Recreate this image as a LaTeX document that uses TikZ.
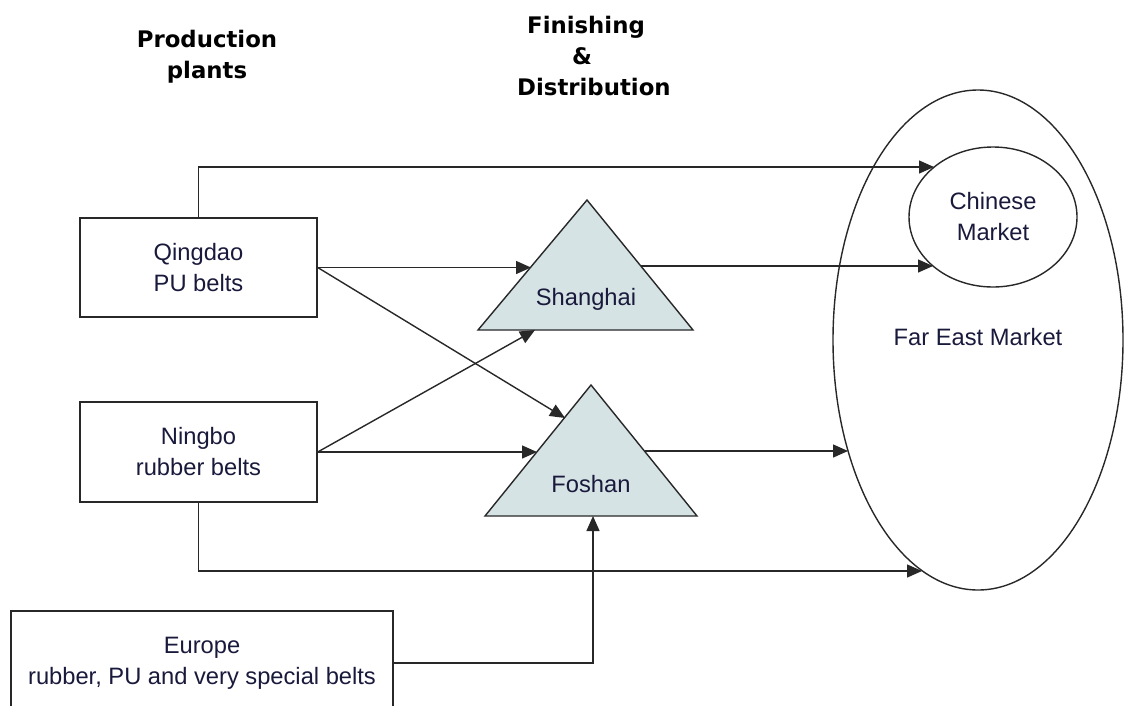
\documentclass[tikz,border=0pt]{standalone}
\usepackage{fontspec}
\setmainfont{Liberation Sans}
\newfontfamily\headfont{DejaVu Sans}
\usetikzlibrary{arrows.meta,shapes.geometric}
\definecolor{txt}{RGB}{25,25,60}
\definecolor{trifill}{RGB}{214,227,228}
\definecolor{edge}{RGB}{40,40,40}
\begin{document}
\begin{tikzpicture}[x=1pt,y=-1pt,
  plant/.style={draw=edge, line width=1.4pt, fill=white, rectangle, inner sep=0pt,
    align=center, text=txt, font=\fontsize{23.7}{31}\selectfont},
  caption/.style={text=txt, align=center, font=\fontsize{23.7}{31}\selectfont, inner sep=0pt},
  heading/.style={align=center, inner sep=0pt, font=\headfont\bfseries\fontsize{22.8}{31}\selectfont},
  tri/.style={draw=edge, line width=1.4pt, fill=trifill, line join=miter},
  market/.style={draw=edge, line width=1.4pt, ellipse, inner sep=0pt, align=center,
    text=txt, font=\fontsize{23.7}{31}\selectfont},
  arr/.style={draw=edge, line width=1.4pt, -{Triangle[length=15pt,width=13pt]}}]
\useasboundingbox (0,0) rectangle (1124,705);
\clip (0,0) rectangle (1124,705);

% column headings
\node[heading] (hprod) at (207,57) {Production\\plants};
\node[heading, align=left, anchor=west] (hfin) at (517,56)
  {\hspace*{10pt}Finishing\\\hspace*{55pt}\&\\Distribution};

% production plants
\node[plant, minimum width=237pt, minimum height=99pt] (qingdao) at (198.5,267.5) {Qingdao\\PU belts};
\node[plant, minimum width=237pt, minimum height=100pt] (ningbo) at (198.5,452) {Ningbo\\rubber belts};
\node[plant, minimum width=382pt, minimum height=104pt] (europe) at (202,663)
  {Europe\\rubber, PU and very special belts};

% markets
\node[market, minimum width=290pt, minimum height=500pt] (fareast) at (978,340) {};
\node[caption] (fareastlbl) at (978,337) {Far East Market};
\node[market, minimum width=168pt, minimum height=140pt] (chinese) at (993,217) {Chinese\\Market};

% finishing and distribution centres
\coordinate (sh-top) at (587,200);
\coordinate (sh-left) at (478,330);
\coordinate (sh-right) at (693,330);
\draw[tri] (sh-top) -- (sh-right) -- (sh-left) -- cycle;
\node[caption] (shanghai) at (586,299) {Shanghai};

\coordinate (fo-top) at (591,385);
\coordinate (fo-left) at (485,516);
\coordinate (fo-right) at (697,516);
\draw[tri] (fo-top) -- (fo-right) -- (fo-left) -- cycle;
\node[caption] (foshan) at (591,484) {Foshan};

% connector end points on the shapes' borders
\coordinate (cm-in1) at (934,167);
\coordinate (cm-in2) at (933,266);
\coordinate (sh-in1) at (531,267.5);
\coordinate (sh-in2) at (535,330);
\coordinate (sh-out) at (641,266);
\coordinate (fo-in1) at (565,418);
\coordinate (fo-in2) at (537,452);
\coordinate (fo-out) at (645,451);
\coordinate (fo-base) at (593,516);
\coordinate (fe-in1) at (848,451);
\coordinate (fe-in2) at (922,571);

% flows
\draw[arr] (qingdao.north) |- (cm-in1);
\draw[arr] (qingdao.east) -- (sh-in1);
\draw[arr] (qingdao.east) -- (fo-in1);
\draw[arr] (ningbo.east) -- (sh-in2);
\draw[arr] (ningbo.east) -- (fo-in2);
\draw[arr] (sh-out) -- (cm-in2);
\draw[arr] (fo-out) -- (fe-in1);
\draw[arr] (ningbo.south) |- (fe-in2);
\draw[arr] (europe.east) -| (fo-base);
\end{tikzpicture}
\end{document}
